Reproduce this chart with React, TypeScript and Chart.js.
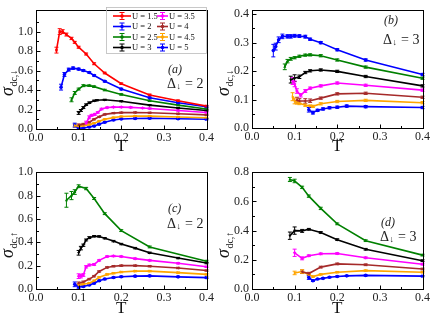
import React, { useEffect, useRef } from "react";
import { Chart, registerables } from "chart.js";

Chart.register(...registerables);

const FONT = "'Liberation Serif','Times New Roman','DejaVu Serif',serif";

// ---------- axis tick positions ----------
const X_MAJOR = [0, 0.1, 0.2, 0.3, 0.4];
const X_MINOR = [0.05, 0.15, 0.25, 0.35];
const YA_MAJOR = [0, 0.2, 0.4, 0.6, 0.8, 1.0];
const YA_MINOR = [0.1, 0.3, 0.5, 0.7, 0.9, 1.1];
const YB_MAJOR = [0, 0.1, 0.2, 0.3, 0.4];
const YB_MINOR = [0.05, 0.15, 0.25, 0.35];
const YC_MAJOR = [0, 0.2, 0.4, 0.6, 0.8, 1.0];
const YC_MINOR = [0.1, 0.3, 0.5, 0.7, 0.9];
const YD_MAJOR = [0, 0.2, 0.4, 0.6, 0.8];
const YD_MINOR = [0.1, 0.3, 0.5, 0.7];

// ---------- legend labels ----------
const U_LABELS = ["U = 1.5", "U = 2", "U = 2.5", "U = 3", "U = 3.5", "U = 4", "U = 4.5", "U = 5"];

// ---------- panel (a): sigma_dc,down, Delta=2 ----------
const A15_T = [0.048, 0.0556, 0.0625, 0.0714, 0.0833, 0.0909, 0.1, 0.1176, 0.1364, 0.1613, 0.2, 0.2667, 0.3333, 0.4];
const A15_V = [0.81, 1.0, 1.0, 0.97, 0.93, 0.89, 0.84, 0.77, 0.67, 0.575, 0.465, 0.35, 0.29, 0.235];
const A15_E = [0.03, 0.03, 0.02, 0.015, 0.012, 0.01, 0.01, 0.01, 0.01, 0.008, 0.008, 0.008, 0.008, 0.008];

const A20_T = [0.0588, 0.0667, 0.0769, 0.087, 0.1, 0.1111, 0.125, 0.1364, 0.1613, 0.2, 0.2667, 0.3333, 0.4];
const A20_V = [0.43, 0.56, 0.61, 0.625, 0.615, 0.6, 0.58, 0.55, 0.49, 0.41, 0.32, 0.27, 0.228];
const A20_E = [0.03, 0.02, 0.015, 0.012, 0.01, 0.01, 0.008, 0.008, 0.008, 0.008, 0.008, 0.008, 0.008];

const A25_T = [0.0833, 0.0909, 0.1, 0.1111, 0.125, 0.1364, 0.1613, 0.2, 0.2667, 0.3333, 0.4];
const A25_V = [0.3, 0.37, 0.41, 0.445, 0.445, 0.435, 0.4, 0.355, 0.29, 0.245, 0.205];
const A25_E = [0.02, 0.015, 0.01, 0.01, 0.008, 0.008, 0.008, 0.008, 0.008, 0.008, 0.008];

const A30_T = [0.1, 0.1053, 0.1111, 0.1176, 0.125, 0.1364, 0.1429, 0.1613, 0.2, 0.2667, 0.3333, 0.4];
const A30_V = [0.165, 0.19, 0.22, 0.25, 0.27, 0.29, 0.295, 0.3, 0.285, 0.245, 0.215, 0.19];
const A30_E = [0.015, 0.01, 0.01, 0.008, 0.008, 0.006, 0.006, 0.006, 0.006, 0.006, 0.006, 0.006];

const A35_T = [0.1176, 0.125, 0.1304, 0.1379, 0.1449, 0.1538, 0.1667, 0.1818, 0.2, 0.2222, 0.25, 0.2667, 0.3333, 0.4];
const A35_V = [0.06, 0.12, 0.14, 0.15, 0.17, 0.205, 0.22, 0.225, 0.225, 0.222, 0.215, 0.21, 0.19, 0.17];
const A35_E = [0.02, 0.015, 0.01, 0.01, 0.008, 0.008, 0.006, 0.006, 0.006, 0.006, 0.006, 0.006, 0.006, 0.006];

const A40_T = [0.1, 0.1111, 0.125, 0.1364, 0.1481, 0.1613, 0.1818, 0.2, 0.2326, 0.2667, 0.3333, 0.4];
const A40_V = [0.04, 0.05, 0.07, 0.1, 0.125, 0.15, 0.163, 0.168, 0.17, 0.167, 0.157, 0.145];
const A40_E = [0.012, 0.008, 0.006, 0.006, 0.006, 0.006, 0.006, 0.006, 0.006, 0.006, 0.006, 0.006];

const A45_T = [0.0909, 0.1, 0.1111, 0.125, 0.1364, 0.1481, 0.1613, 0.1818, 0.2, 0.2326, 0.2667, 0.3333, 0.4];
const A45_V = [0.035, 0.03, 0.035, 0.045, 0.06, 0.08, 0.1, 0.117, 0.128, 0.132, 0.132, 0.123, 0.115];
const A45_E = [0.015, 0.008, 0.006, 0.006, 0.006, 0.006, 0.006, 0.006, 0.006, 0.006, 0.006, 0.006, 0.006];

const A50_T = [0.0909, 0.1, 0.1111, 0.125, 0.1364, 0.1481, 0.1613, 0.1818, 0.2, 0.2326, 0.2667, 0.3333, 0.4];
const A50_V = [0.04, 0.008, 0.01, 0.02, 0.03, 0.05, 0.07, 0.092, 0.103, 0.108, 0.11, 0.105, 0.1];
const A50_E = [0.02, 0.01, 0.006, 0.006, 0.006, 0.006, 0.006, 0.006, 0.006, 0.006, 0.006, 0.006, 0.006];

// ---------- panel (b): sigma_dc,down, Delta=3 ----------
const B20_T = [0.05, 0.0556, 0.0625, 0.0714, 0.0833, 0.0909, 0.1, 0.1111, 0.125, 0.1364, 0.1613, 0.2, 0.2667, 0.4];
const B20_V = [0.272, 0.286, 0.31, 0.322, 0.322, 0.322, 0.324, 0.323, 0.321, 0.312, 0.3, 0.275, 0.239, 0.188];
const B20_E = [0.022, 0.012, 0.01, 0.008, 0.006, 0.006, 0.005, 0.005, 0.005, 0.004, 0.004, 0.004, 0.004, 0.004];

const B25_T = [0.0769, 0.0833, 0.0909, 0.1, 0.1111, 0.125, 0.1364, 0.1613, 0.2, 0.2667, 0.4];
const B25_V = [0.215, 0.235, 0.243, 0.247, 0.252, 0.256, 0.257, 0.254, 0.239, 0.214, 0.175];
const B25_E = [0.01, 0.006, 0.005, 0.004, 0.004, 0.004, 0.004, 0.004, 0.004, 0.004, 0.004];

const B30_T = [0.0909, 0.1, 0.1111, 0.125, 0.1364, 0.1613, 0.2, 0.2667, 0.4];
const B30_V = [0.17, 0.175, 0.18, 0.195, 0.201, 0.204, 0.199, 0.181, 0.148];
const B30_E = [0.012, 0.012, 0.006, 0.004, 0.004, 0.004, 0.004, 0.004, 0.004];

const B35_T = [0.0952, 0.1, 0.1053, 0.1143, 0.125, 0.1364, 0.1613, 0.2, 0.2667, 0.4];
const B35_V = [0.165, 0.155, 0.13, 0.115, 0.13, 0.14, 0.148, 0.158, 0.15, 0.133];
const B35_E = [0.012, 0.01, 0.008, 0.006, 0.005, 0.004, 0.004, 0.004, 0.004, 0.004];

const B40_T = [0.1053, 0.1111, 0.125, 0.1364, 0.1613, 0.2, 0.2667, 0.4];
const B40_V = [0.098, 0.095, 0.095, 0.096, 0.105, 0.12, 0.122, 0.108];
const B40_E = [0.01, 0.008, 0.008, 0.006, 0.004, 0.004, 0.004, 0.004];

const B45_T = [0.0952, 0.1, 0.1053, 0.1111, 0.125, 0.1364, 0.1429, 0.1613, 0.2, 0.2667, 0.4];
const B45_V = [0.11, 0.095, 0.09, 0.087, 0.08, 0.077, 0.076, 0.085, 0.093, 0.097, 0.089];
const B45_E = [0.014, 0.01, 0.006, 0.005, 0.004, 0.004, 0.004, 0.004, 0.004, 0.004, 0.004];

const B50_T = [0.1333, 0.1429, 0.1538, 0.1667, 0.1818, 0.2, 0.2222, 0.2667, 0.4];
const B50_V = [0.064, 0.054, 0.062, 0.067, 0.071, 0.073, 0.077, 0.075, 0.072];
const B50_E = [0.008, 0.005, 0.004, 0.004, 0.004, 0.004, 0.004, 0.004, 0.004];

// ---------- panel (c): sigma_dc,up, Delta=2 ----------
const C25_T = [0.0714, 0.0833, 0.0909, 0.1, 0.1176, 0.1364, 0.1613, 0.2, 0.2667, 0.4];
const C25_V = [0.76, 0.8, 0.83, 0.88, 0.86, 0.775, 0.645, 0.5, 0.36, 0.238];
const C25_E = [0.06, 0.035, 0.02, 0.012, 0.01, 0.008, 0.008, 0.008, 0.008, 0.008];

const C30_T = [0.1, 0.1053, 0.1111, 0.1176, 0.125, 0.1364, 0.1481, 0.1613, 0.1818, 0.2, 0.2326, 0.2667, 0.3333, 0.4];
const C30_V = [0.31, 0.35, 0.375, 0.42, 0.44, 0.452, 0.45, 0.435, 0.41, 0.385, 0.35, 0.31, 0.265, 0.222];
const C30_E = [0.02, 0.015, 0.01, 0.008, 0.008, 0.006, 0.006, 0.006, 0.006, 0.006, 0.006, 0.006, 0.006, 0.006];

const C35_T = [0.1, 0.1053, 0.1111, 0.1176, 0.125, 0.1364, 0.1481, 0.1667, 0.1818, 0.2, 0.2326, 0.2667, 0.3333, 0.4];
const C35_V = [0.11, 0.11, 0.12, 0.19, 0.205, 0.21, 0.245, 0.278, 0.282, 0.278, 0.26, 0.245, 0.22, 0.19];
const C35_E = [0.02, 0.015, 0.012, 0.01, 0.008, 0.008, 0.006, 0.006, 0.006, 0.006, 0.006, 0.006, 0.006, 0.006];

const C40_T = [0.1, 0.1111, 0.125, 0.1364, 0.1481, 0.1667, 0.1818, 0.2, 0.2326, 0.2667, 0.3333, 0.4];
const C40_V = [0.05, 0.06, 0.085, 0.11, 0.15, 0.185, 0.195, 0.2, 0.2, 0.195, 0.18, 0.158];
const C40_E = [0.01, 0.008, 0.006, 0.006, 0.006, 0.006, 0.006, 0.006, 0.006, 0.006, 0.006, 0.006];

const C45_T = [0.1, 0.1111, 0.125, 0.1364, 0.1481, 0.1667, 0.1818, 0.2, 0.2326, 0.2667, 0.3333, 0.4];
const C45_V = [0.035, 0.04, 0.05, 0.07, 0.1, 0.125, 0.135, 0.145, 0.153, 0.153, 0.14, 0.125];
const C45_E = [0.01, 0.008, 0.006, 0.006, 0.006, 0.006, 0.006, 0.006, 0.006, 0.006, 0.006, 0.006];

const C50_T = [0.0909, 0.1, 0.1111, 0.125, 0.1364, 0.1481, 0.1613, 0.1818, 0.2, 0.2326, 0.2667, 0.3333, 0.4];
const C50_V = [0.04, 0.017, 0.022, 0.035, 0.05, 0.07, 0.085, 0.098, 0.105, 0.11, 0.112, 0.104, 0.097];
const C50_E = [0.02, 0.01, 0.006, 0.006, 0.006, 0.006, 0.006, 0.006, 0.006, 0.006, 0.006, 0.006, 0.006];

// ---------- panel (d): sigma_dc,up, Delta=3 ----------
const D25_T = [0.0889, 0.1, 0.1176, 0.1333, 0.1613, 0.2, 0.2667, 0.4];
const D25_V = [0.75, 0.74, 0.696, 0.636, 0.552, 0.446, 0.331, 0.232];
const D25_E = [0.014, 0.012, 0.008, 0.008, 0.008, 0.006, 0.006, 0.006];

const D30_T = [0.0889, 0.1, 0.1176, 0.1333, 0.1613, 0.2, 0.2667, 0.4];
const D30_V = [0.365, 0.4, 0.398, 0.409, 0.387, 0.338, 0.272, 0.194];
const D30_E = [0.025, 0.025, 0.01, 0.006, 0.006, 0.006, 0.006, 0.006];

const D35_T = [0.1, 0.1176, 0.1333, 0.1613, 0.2, 0.2667, 0.4];
const D35_V = [0.248, 0.21, 0.228, 0.241, 0.243, 0.214, 0.17];
const D35_E = [0.025, 0.01, 0.006, 0.006, 0.006, 0.006, 0.006];

const D40_T = [0.1176, 0.1333, 0.1613, 0.2, 0.2667, 0.4];
const D40_V = [0.118, 0.106, 0.15, 0.172, 0.166, 0.137];
const D40_E = [0.012, 0.008, 0.006, 0.006, 0.006, 0.006];

const D45_T = [0.1, 0.1176, 0.1333, 0.1429, 0.1613, 0.2, 0.2667, 0.4];
const D45_V = [0.11, 0.12, 0.1, 0.085, 0.1, 0.115, 0.126, 0.115];
const D45_E = [0.012, 0.012, 0.006, 0.005, 0.005, 0.005, 0.005, 0.005];

const D50_T = [0.1333, 0.1429, 0.1538, 0.1667, 0.1818, 0.2, 0.2222, 0.2667, 0.4];
const D50_V = [0.078, 0.057, 0.068, 0.073, 0.08, 0.086, 0.09, 0.093, 0.088];
const D50_E = [0.012, 0.005, 0.004, 0.004, 0.004, 0.004, 0.004, 0.004, 0.004];

// ---------- styles ----------
const COLORS = ["#ff0000", "#0000ff", "#008000", "#000000", "#ff00ff", "#a52a2a", "#ffa500", "#0000ff"];
const MARKERS = ["rect", "circle", "triangle", "triangle", "rectRot", "triangle", "triangle", "circle"];
const ROTS = [0, 0, 0, 180, 0, 270, 90, 0];

type Series = { u: number; T: number[]; V: number[]; E: number[] };
type Panel = {
  series: Series[];
  ymax: number;
  yMajor: number[];
  yMinor: number[];
  spin: string;
  tag: string;
  delta: string;
  tagX: number;
  tagY: number;
  deltaY: number;
  legend: boolean;
  top: number;
  xh: number;
};

const PANELS: Panel[] = [
  {
    series: [
      { u: 0, T: A15_T, V: A15_V, E: A15_E },
      { u: 1, T: A20_T, V: A20_V, E: A20_E },
      { u: 2, T: A25_T, V: A25_V, E: A25_E },
      { u: 3, T: A30_T, V: A30_V, E: A30_E },
      { u: 4, T: A35_T, V: A35_V, E: A35_E },
      { u: 5, T: A40_T, V: A40_V, E: A40_E },
      { u: 6, T: A45_T, V: A45_V, E: A45_E },
      { u: 7, T: A50_T, V: A50_V, E: A50_E },
    ],
    ymax: 1.22, yMajor: YA_MAJOR, yMinor: YA_MINOR, spin: "↓", tag: "(a)", delta: "2",
    tagX: 167, tagY: 70, deltaY: 84, legend: true, top: 6, xh: 33,
  },
  {
    series: [
      { u: 1, T: B20_T, V: B20_V, E: B20_E },
      { u: 2, T: B25_T, V: B25_V, E: B25_E },
      { u: 3, T: B30_T, V: B30_V, E: B30_E },
      { u: 4, T: B35_T, V: B35_V, E: B35_E },
      { u: 5, T: B40_T, V: B40_V, E: B40_E },
      { u: 6, T: B45_T, V: B45_V, E: B45_E },
      { u: 7, T: B50_T, V: B50_V, E: B50_E },
    ],
    ymax: 0.414, yMajor: YB_MAJOR, yMinor: YB_MINOR, spin: "↓", tag: "(b)", delta: "3",
    tagX: 167, tagY: 21, deltaY: 40, legend: false, top: 6, xh: 34,
  },
  {
    series: [
      { u: 2, T: C25_T, V: C25_V, E: C25_E },
      { u: 3, T: C30_T, V: C30_V, E: C30_E },
      { u: 4, T: C35_T, V: C35_V, E: C35_E },
      { u: 5, T: C40_T, V: C40_V, E: C40_E },
      { u: 6, T: C45_T, V: C45_V, E: C45_E },
      { u: 7, T: C50_T, V: C50_V, E: C50_E },
    ],
    ymax: 1.0, yMajor: YC_MAJOR, yMinor: YC_MINOR, spin: "↑", tag: "(c)", delta: "2",
    tagX: 167, tagY: 47, deltaY: 62, legend: false, top: 7, xh: 35,
  },
  {
    series: [
      { u: 2, T: D25_T, V: D25_V, E: D25_E },
      { u: 3, T: D30_T, V: D30_V, E: D30_E },
      { u: 4, T: D35_T, V: D35_V, E: D35_E },
      { u: 5, T: D40_T, V: D40_V, E: D40_E },
      { u: 6, T: D45_T, V: D45_V, E: D45_E },
      { u: 7, T: D50_T, V: D50_V, E: D50_E },
    ],
    ymax: 0.8, yMajor: YD_MAJOR, yMinor: YD_MINOR, spin: "↑", tag: "(d)", delta: "3",
    tagX: 164, tagY: 61, deltaY: 75, legend: false, top: 6, xh: 35,
  },
];

function drawErrSymbol(ctx: CanvasRenderingContext2D, x: number, y1: number, y2: number, cap: number) {
  ctx.beginPath();
  ctx.moveTo(x, y1);
  ctx.lineTo(x, y2);
  ctx.moveTo(x - cap, y1);
  ctx.lineTo(x + cap, y1);
  ctx.moveTo(x - cap, y2);
  ctx.lineTo(x + cap, y2);
  ctx.stroke();
}

function makePlugin(p: Panel) {
  return {
    id: "framePlugin",
    beforeDatasetsDraw(chart: any) {
      const ctx: CanvasRenderingContext2D = chart.ctx;
      const xs = chart.scales.x;
      const ys = chart.scales.y;
      ctx.save();
      ctx.lineWidth = 1;
      chart.data.datasets.forEach((ds: any) => {
        ctx.strokeStyle = ds.borderColor;
        ds.data.forEach((pt: any, i: number) => {
          const e = ds.errs[i];
          const x = xs.getPixelForValue(pt.x);
          const y1 = ys.getPixelForValue(pt.y + e);
          const y2 = ys.getPixelForValue(pt.y - e);
          drawErrSymbol(ctx, x, y1, y2, 2);
        });
      });
      ctx.restore();
    },
    afterDraw(chart: any) {
      const ctx: CanvasRenderingContext2D = chart.ctx;
      const a = chart.chartArea;
      const xs = chart.scales.x;
      const ys = chart.scales.y;
      const L = Math.round(a.left) + 0.5;
      const R = Math.round(a.right) + 0.5;
      const Tp = Math.round(a.top) + 0.5;
      const B = Math.round(a.bottom) + 0.5;
      ctx.save();
      ctx.strokeStyle = "#000";
      ctx.lineWidth = 1;
      ctx.strokeRect(L, Tp, R - L, B - Tp);
      // inward ticks
      ctx.beginPath();
      X_MAJOR.forEach((v) => {
        const x = Math.round(xs.getPixelForValue(v)) + 0.5;
        ctx.moveTo(x, B);
        ctx.lineTo(x, B - 4);
      });
      X_MINOR.forEach((v) => {
        const x = Math.round(xs.getPixelForValue(v)) + 0.5;
        ctx.moveTo(x, B);
        ctx.lineTo(x, B - 2.5);
      });
      p.yMajor.forEach((v) => {
        const y = Math.round(ys.getPixelForValue(v)) + 0.5;
        ctx.moveTo(L, y);
        ctx.lineTo(L + 4, y);
      });
      p.yMinor.forEach((v) => {
        const y = Math.round(ys.getPixelForValue(v)) + 0.5;
        ctx.moveTo(L, y);
        ctx.lineTo(L + 2.5, y);
      });
      ctx.stroke();

      // x title
      ctx.fillStyle = "#111";
      ctx.font = `17px ${FONT}`;
      ctx.textAlign = "center";
      ctx.textBaseline = "middle";
      ctx.fillText("T", (a.left + a.right) / 2, 147);

      // y title
      ctx.save();
      ctx.translate(13, 96);
      ctx.rotate(-Math.PI / 2);
      ctx.textAlign = "left";
      ctx.textBaseline = "alphabetic";
      ctx.font = `italic 18px ${FONT}`;
      ctx.fillText("σ", 0, 0);
      const w = ctx.measureText("σ").width;
      ctx.font = `10px ${FONT}`;
      ctx.fillText("dc," + p.spin, w + 0.5, 3.5);
      ctx.restore();

      // annotations
      ctx.textAlign = "left";
      ctx.textBaseline = "middle";
      ctx.fillStyle = "#222";
      ctx.font = `italic 12px ${FONT}`;
      ctx.fillText(p.tag, p.tagX + 1, p.tagY);
      ctx.font = `14px ${FONT}`;
      ctx.fillText("Δ", p.tagX, p.deltaY);
      const dw = ctx.measureText("Δ").width;
      ctx.font = `9px ${FONT}`;
      ctx.fillText("↓", p.tagX + dw + 0.5, p.deltaY + 3);
      const aw = ctx.measureText("↓").width;
      ctx.font = `14px ${FONT}`;
      ctx.fillText(" = " + p.delta, p.tagX + dw + aw + 1, p.deltaY);

      // legend
      if (p.legend) {
        ctx.strokeStyle = "#bbb";
        ctx.lineWidth = 0.8;
        ctx.strokeRect(106.5, 7.5, R - 106.5 - 1, 46);
        const rows = [16, 26.5, 37, 47.5];
        const cols = [
          { x1: 113, x2: 131, tx: 132 },
          { x1: 157, x2: 168, tx: 169 },
        ];
        U_LABELS.forEach((lab, i) => {
          const c = cols[Math.floor(i / 4)];
          const y = rows[i % 4];
          const col = COLORS[i];
          ctx.strokeStyle = col;
          ctx.fillStyle = col;
          ctx.lineWidth = 1.6;
          ctx.beginPath();
          ctx.moveTo(c.x1, y);
          ctx.lineTo(c.x2, y);
          ctx.stroke();
          const mx = (c.x1 + c.x2) / 2;
          ctx.lineWidth = 1;
          drawErrSymbol(ctx, mx, y - 3.5, y + 3.5, 2.5);
          ctx.beginPath();
          ctx.arc(mx, y, 1.8, 0, Math.PI * 2);
          ctx.fill();
          ctx.fillStyle = "#111";
          ctx.font = `8.5px ${FONT}`;
          ctx.textAlign = "left";
          ctx.textBaseline = "middle";
          ctx.fillText(lab, c.tx, y + 0.5);
        });
      }
      ctx.restore();
    },
  };
}

function buildConfig(p: Panel): any {
  return {
    type: "line",
    data: {
      datasets: p.series.map((s) => ({
        data: s.T.map((t, i) => ({ x: t, y: s.V[i] })),
        errs: s.E,
        borderColor: COLORS[s.u],
        backgroundColor: COLORS[s.u],
        borderWidth: 1.6,
        pointRadius: 1.8,
        pointStyle: MARKERS[s.u],
        pointRotation: ROTS[s.u],
        pointBorderWidth: 0,
        tension: 0,
        fill: false,
      })),
    },
    options: {
      animation: false,
      responsive: false,
      maintainAspectRatio: false,
      events: [],
      layout: { padding: { top: p.top, right: 8, left: 0, bottom: 0 } },
      plugins: { legend: { display: false }, tooltip: { enabled: false } },
      scales: {
        x: {
          type: "linear",
          min: 0,
          max: 0.4,
          afterBuildTicks: (s: any) => {
            s.ticks = X_MAJOR.map((v) => ({ value: v }));
          },
          afterFit: (s: any) => {
            s.height = p.xh;
          },
          ticks: {
            callback: (v: any) => Number(v).toFixed(1),
            font: { family: FONT, size: 12 },
            color: "#222",
            padding: 2,
            maxRotation: 0,
            autoSkip: false,
          },
          grid: { display: false, drawTicks: false },
          border: { display: false },
        },
        y: {
          type: "linear",
          min: 0,
          max: p.ymax,
          afterBuildTicks: (s: any) => {
            s.ticks = p.yMajor.map((v) => ({ value: v }));
          },
          afterFit: (s: any) => {
            s.width = 36;
          },
          ticks: {
            callback: (v: any) => Number(v).toFixed(1),
            font: { family: FONT, size: 12 },
            color: "#222",
            padding: 3,
            autoSkip: false,
          },
          grid: { display: false, drawTicks: false },
          border: { display: false },
        },
      },
    },
    plugins: [makePlugin(p)],
  };
}

export default function App() {
  const refs = [useRef<HTMLCanvasElement>(null), useRef<HTMLCanvasElement>(null), useRef<HTMLCanvasElement>(null), useRef<HTMLCanvasElement>(null)];
  useEffect(() => {
    const charts = PANELS.map((p, i) => new Chart(refs[i].current as HTMLCanvasElement, buildConfig(p)));
    return () => charts.forEach((c) => c.destroy());
  }, []);
  return (
    <div
      style={{
        position: "fixed",
        left: 0,
        top: 0,
        width: 432,
        height: 324,
        background: "#fff",
        display: "grid",
        gridTemplateColumns: "216px 216px",
        gridTemplateRows: "162px 162px",
      }}
    >
      {refs.map((r, i) => (
        <canvas key={i} ref={r} width={216} height={162} style={{ width: 216, height: 162, display: "block" }} />
      ))}
    </div>
  );
}
